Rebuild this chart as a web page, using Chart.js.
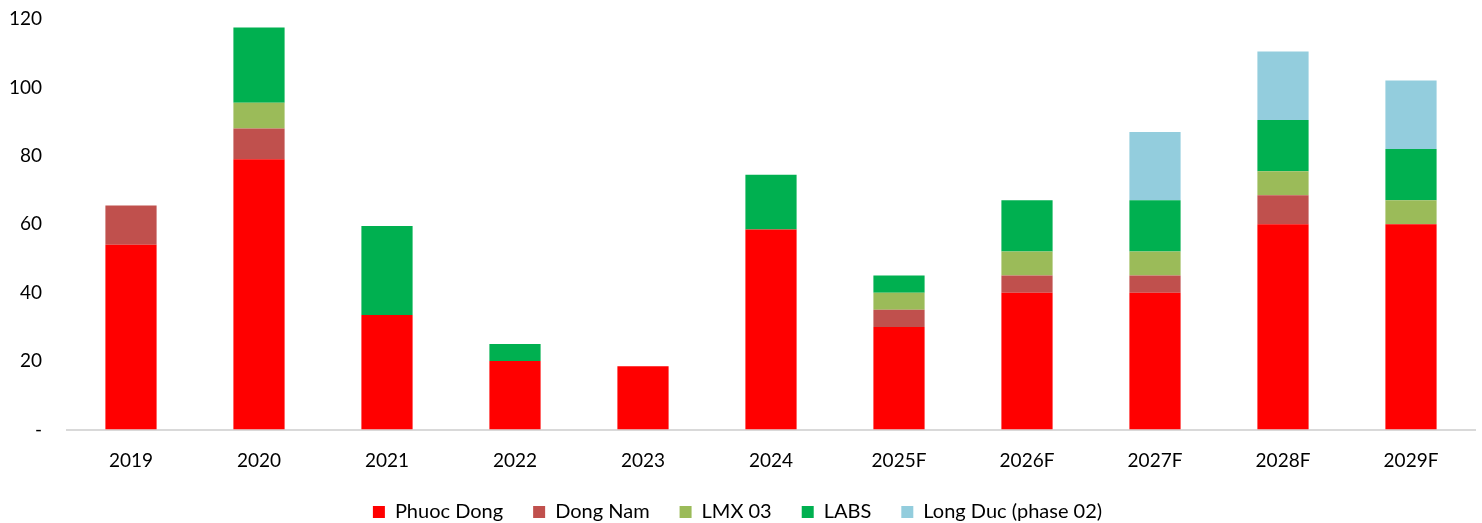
<!DOCTYPE html>
<html>
<head>
<meta charset="utf-8">
<script src="https://cdn.jsdelivr.net/npm/chart.js@4"></script>
<style>
  html, body { margin: 0; padding: 0; background: #fff; }
  #wrap { width: 1482px; height: 523px; position: relative; }
</style>
</head>
<body>
<div id="wrap"><canvas id="c" width="1482" height="523"></canvas></div>
<script>
// Capacity by project, per year (actual and forecast)
const years = ['2019', '2020', '2021', '2022', '2023', '2024', '2025F', '2026F', '2027F', '2028F', '2029F'];
const phuocDong   = [54, 79, 33.5, 20, 18.5, 58.5, 30, 40, 40, 60, 60];
const dongNam     = [11.5, 9, 0, 0, 0, 0, 5, 5, 5, 8.5, 0];
const lmx03       = [0, 7.5, 0, 0, 0, 0, 5, 7, 7, 7, 7];
const labs        = [0, 22, 26, 5, 0, 16, 5, 15, 15, 15, 15];
const longDuc     = [0, 0, 0, 0, 0, 0, 0, 0, 20, 20, 20];
const yTicks      = [0, 20, 40, 60, 80, 100, 120];

const FONT = 'Lato, "Open Sans", sans-serif';

const series = [
  { label: 'Phuoc Dong', data: phuocDong, color: '#FF0000' },
  { label: 'Dong Nam', data: dongNam, color: '#C0504D' },
  { label: 'LMX 03', data: lmx03, color: '#9BBB59' },
  { label: 'LABS', data: labs, color: '#00B050' },
  { label: 'Long Duc (phase 02)', data: longDuc, color: '#93CDDD' }
];

new Chart(document.getElementById('c'), {
  type: 'bar',
  data: {
    labels: years,
    datasets: series.map(s => ({
      label: s.label,
      data: s.data,
      backgroundColor: s.color,
      borderWidth: 0,
      categoryPercentage: 1,
      barPercentage: 0.4
    }))
  },
  options: {
    responsive: false,
    animation: false,
    layout: { padding: { left: 0, right: 7, top: 0, bottom: 0 } },
    plugins: {
      legend: {
        position: 'bottom',
        maxHeight: 51,
        labels: {
          font: { family: FONT, size: 20 },
          color: '#000',
          boxWidth: 12,
          boxHeight: 12,
          padding: 30
        }
      },
      tooltip: { enabled: false }
    },
    scales: {
      x: {
        stacked: true,
        afterFit: axis => { axis.height = 42.5; },
        grid: { display: false, drawTicks: false },
        border: { color: '#D9D9D9', width: 2 },
        ticks: {
          font: { family: FONT, size: 19 },
          color: '#000',
          padding: 20
        }
      },
      y: {
        stacked: true,
        min: 0,
        max: 120,
        afterBuildTicks: axis => { axis.ticks = yTicks.map(v => ({ value: v })); },
        afterFit: axis => {
          axis.width = 67;
          axis.paddingTop = 19;
          axis.paddingBottom = 0;
        },
        grid: { display: false, drawTicks: false },
        border: { display: false },
        ticks: {
          font: { family: FONT, size: 19 },
          color: '#000',
          padding: 25,
          callback: v => (v === 0 ? '-' : v)
        }
      }
    }
  }
});
</script>
</body>
</html>
